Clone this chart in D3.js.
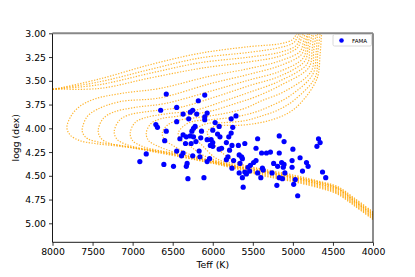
<!DOCTYPE html>
<html>
<head>
<meta charset="utf-8">
<script src="https://cdnjs.cloudflare.com/ajax/libs/d3/7.8.5/d3.min.js"></script>
<style>
body { margin: 0; background: #fff; }
svg text { font-family: "DejaVu Sans", sans-serif; fill: #000; }
</style>
</head>
<body>
<div id="chart"></div>
<script>
var width = 415,
    height = 277,
    margin = {top: 33.3, right: 42, bottom: 34.7, left: 52.5};

// axis ticks
var teffTicks = [8000, 7500, 7000, 6500, 6000, 5500, 5000, 4500, 4000];
var loggTicks = [3.00, 3.25, 3.50, 3.75, 4.00, 4.25, 4.50, 4.75, 5.00];

// FAMA stars
var famaTeff = [6580, 6100, 6180, 6450, 6650, 6250, 6280, 6370, 6200, 6070,
  6100, 6300, 5710, 5770, 6710, 6690, 6450, 6100, 5970, 6220,
  6240, 5920, 5750, 6580, 6260, 6140, 6000, 5940, 5770, 6370,
  6410, 6330, 6280, 6240, 6600, 6150, 6020, 6070, 5910, 5800,
  5440, 5170, 6340, 6270, 6210, 6030, 6000, 5830, 5890, 5760,
  5680, 5600, 5460, 5110, 4680, 4660, 4700, 6830, 6450, 6370,
  6390, 6250, 6160, 6040, 6070, 5810, 5830, 5670, 5640, 5920,
  5790, 6000, 6170, 5390, 5330, 5280, 5170, 5000, 4910, 5010,
  4830, 4810, 5240, 5140, 5110, 5190, 5120, 5010, 5490, 5530,
  5560, 5660, 5630, 5740, 5460, 4880, 4630, 4590, 5370, 5260,
  5100, 5170, 5130, 5440, 5600, 5580, 5670, 5630, 5760, 5400,
  4970, 4990, 5200, 5620, 4940, 6910, 6610, 6490, 6320, 6330,
  6310, 6110, 5540, 5380];
var famaLogg = [3.64, 3.65, 3.71, 3.78, 3.81, 3.81, 3.83, 3.85, 3.85, 3.84,
  3.88, 3.90, 3.87, 3.90, 3.96, 3.99, 3.93, 3.91, 3.94, 3.98,
  4.00, 3.98, 3.99, 4.03, 4.03, 4.03, 4.02, 4.06, 4.05, 4.07,
  4.11, 4.09, 4.08, 4.09, 4.13, 4.10, 4.12, 4.12, 4.09, 4.09,
  4.11, 4.08, 4.16, 4.16, 4.14, 4.18, 4.15, 4.15, 4.21, 4.18,
  4.18, 4.16, 4.21, 4.14, 4.11, 4.15, 4.19, 4.27, 4.24, 4.26,
  4.29, 4.29, 4.30, 4.32, 4.35, 4.30, 4.33, 4.28, 4.30, 4.22,
  4.23, 4.19, 4.24, 4.26, 4.26, 4.25, 4.26, 4.22, 4.31, 4.34,
  4.36, 4.40, 4.37, 4.36, 4.38, 4.40, 4.41, 4.41, 4.36, 4.39,
  4.41, 4.37, 4.32, 4.34, 4.34, 4.45, 4.46, 4.52, 4.44, 4.47,
  4.47, 4.52, 4.53, 4.47, 4.46, 4.48, 4.47, 4.52, 4.42, 4.52,
  4.54, 4.59, 4.60, 4.62, 4.71, 4.35, 4.38, 4.40, 4.37, 4.40,
  4.53, 4.52, 4.45, 4.42];

// isochrones, [Teff, logg], young ones first
var iso_f1 = [[8100, 3.60], [8000, 3.59], [7410, 3.48], [6780, 3.33], [6160, 3.21], [5540, 3.14],
  [5160, 3.11], [5010, 3.07], [4970, 3.03], [4950, 3.00], [4940, 2.91]];
var iso_f2 = [[8100, 3.60], [8000, 3.59], [7410, 3.51], [6780, 3.38], [6160, 3.26], [5540, 3.20],
  [5160, 3.15], [4990, 3.10], [4950, 3.05], [4920, 3.00], [4910, 2.91]];
var iso_f3 = [[8100, 3.60], [8000, 3.59], [7410, 3.54], [6780, 3.42], [6160, 3.31], [5540, 3.25],
  [5160, 3.20], [4960, 3.13], [4920, 3.06], [4900, 3.00], [4890, 2.91]];
var iso_f4 = [[8100, 3.60], [8000, 3.59], [7410, 3.58], [6780, 3.47], [6160, 3.37], [5540, 3.30],
  [5160, 3.24], [4940, 3.15], [4900, 3.07], [4870, 3.00], [4860, 2.91]];
var iso_c1 = [[4000, 4.96], [4225, 4.82], [4450, 4.69], [4660, 4.63], [4950, 4.57], [5370, 4.50],
  [5790, 4.41], [6160, 4.34], [6660, 4.25], [7160, 4.19], [7470, 4.16], [7660, 4.13], [7780, 4.07],
  [7820, 3.99], [7760, 3.86], [7660, 3.77], [7470, 3.69], [7120, 3.63], [6660, 3.58], [6030, 3.45],
  [5540, 3.37], [5160, 3.29], [4910, 3.19], [4870, 3.09], [4850, 3.00], [4840, 2.91]];
var iso_c2 = [[4000, 4.95], [4225, 4.81], [4450, 4.68], [4660, 4.62], [4950, 4.56], [5370, 4.49],
  [5790, 4.40], [6160, 4.34], [6660, 4.26], [7160, 4.18], [7400, 4.15], [7560, 4.11], [7610, 4.07],
  [7630, 4.02], [7570, 3.88], [7440, 3.80], [7160, 3.72], [6660, 3.68], [6030, 3.53], [5540, 3.43],
  [5160, 3.34], [4890, 3.22], [4850, 3.10], [4820, 3.00], [4810, 2.91]];
var iso_c3 = [[4000, 4.94], [4225, 4.80], [4450, 4.67], [4660, 4.61], [4950, 4.55], [5370, 4.48],
  [5790, 4.40], [6160, 4.33], [6660, 4.25], [7000, 4.20], [7280, 4.16], [7390, 4.11], [7430, 4.03],
  [7370, 3.90], [7240, 3.83], [6970, 3.78], [6600, 3.74], [6030, 3.61], [5540, 3.49], [5160, 3.40],
  [4870, 3.26], [4830, 3.11], [4810, 3.00], [4790, 2.91]];
var iso_c4 = [[4000, 4.93], [4225, 4.79], [4450, 4.66], [4660, 4.60], [4950, 4.54], [5370, 4.47],
  [5790, 4.39], [6160, 4.32], [6660, 4.24], [6900, 4.21], [7080, 4.17], [7190, 4.12], [7230, 4.04],
  [7170, 3.92], [7050, 3.86], [6780, 3.82], [6410, 3.78], [5970, 3.67], [5540, 3.55], [5160, 3.45],
  [4850, 3.29], [4810, 3.13], [4790, 3.00], [4770, 2.91]];
var iso_c5 = [[4000, 4.92], [4225, 4.78], [4450, 4.65], [4660, 4.59], [4950, 4.53], [5370, 4.46],
  [5790, 4.39], [6160, 4.32], [6500, 4.26], [6700, 4.23], [6880, 4.19], [7000, 4.13], [7030, 4.05],
  [6970, 3.94], [6850, 3.89], [6600, 3.85], [6220, 3.81], [5850, 3.71], [5540, 3.62], [5160, 3.50],
  [4820, 3.32], [4790, 3.14], [4760, 3.00], [4750, 2.91]];
var iso_c6 = [[4000, 4.91], [4225, 4.77], [4450, 4.64], [4660, 4.59], [4950, 4.53], [5370, 4.46],
  [5790, 4.39], [6160, 4.32], [6450, 4.26], [6680, 4.19], [6800, 4.13], [6830, 4.05],
  [6770, 3.95], [6650, 3.90], [6410, 3.87], [6030, 3.82], [5720, 3.74], [5470, 3.67], [5160, 3.55],
  [4800, 3.36], [4760, 3.17], [4740, 3.00], [4720, 2.91]];
var iso_c7 = [[4000, 4.91], [4225, 4.77], [4450, 4.63], [4660, 4.58], [4950, 4.52], [5370, 4.45],
  [5790, 4.38], [6100, 4.32], [6300, 4.27], [6480, 4.19], [6600, 4.12], [6630, 4.05],
  [6570, 3.97], [6450, 3.92], [6220, 3.89], [5890, 3.85], [5600, 3.79], [5390, 3.71], [5100, 3.61],
  [4770, 3.40], [4740, 3.18], [4710, 3.00], [4700, 2.91]];
var iso_c8 = [[4000, 4.90], [4225, 4.76], [4450, 4.63], [4660, 4.57], [4950, 4.52], [5370, 4.45],
  [5790, 4.38], [5950, 4.34], [6130, 4.28], [6280, 4.19], [6400, 4.12], [6430, 4.05],
  [6370, 3.98], [6260, 3.93], [6030, 3.91], [5720, 3.88], [5470, 3.83], [5290, 3.77], [5040, 3.66],
  [4750, 3.43], [4710, 3.20], [4690, 3.00], [4670, 2.91]];
var iso_c9 = [[4000, 4.89], [4225, 4.75], [4450, 4.62], [4660, 4.57], [4950, 4.51], [5370, 4.44],
  [5700, 4.38], [5950, 4.32], [6120, 4.19], [6210, 4.11], [6250, 4.05],
  [6180, 3.99], [6070, 3.95], [5850, 3.94], [5600, 3.92], [5390, 3.87], [5190, 3.81], [4980, 3.70],
  [4720, 3.46], [4690, 3.21], [4660, 3.00], [4650, 2.91]];
var iso_c10 = [[4000, 4.88], [4225, 4.74], [4450, 4.61], [4660, 4.56], [4950, 4.50], [5370, 4.43],
  [5600, 4.39], [5800, 4.31], [5950, 4.20], [6030, 4.11], [6070, 4.04],
  [6010, 3.99], [5910, 3.97], [5700, 3.97], [5470, 3.95], [5260, 3.91], [5060, 3.84], [4910, 3.74],
  [4700, 3.48], [4660, 3.22], [4640, 3.00], [4620, 2.91]];

var isochrones = [iso_f1, iso_f2, iso_f3, iso_f4, iso_c1, iso_c2, iso_c3, iso_c4,
  iso_c5, iso_c6, iso_c7, iso_c8, iso_c9, iso_c10];

var x = d3.scaleLinear()
    .domain([8000, 4000])
    .range([margin.left, width - margin.right]);

var y = d3.scaleLinear()
    .domain([3.0, 5.2])
    .range([margin.top, height - margin.bottom]);

var svg = d3.select("#chart").append("svg")
    .attr("width", width)
    .attr("height", height);

svg.append("clipPath")
    .attr("id", "plotclip")
  .append("rect")
    .attr("x", x(8000))
    .attr("y", y(3.0))
    .attr("width", x(4000) - x(8000))
    .attr("height", y(5.2) - y(3.0));

var line = d3.line()
    .x(function(d) { return x(d[0]); })
    .y(function(d) { return y(d[1]); })
    .curve(d3.curveCatmullRom.alpha(0.5));

svg.append("g")
    .attr("clip-path", "url(#plotclip)")
    .selectAll("path")
    .data(isochrones)
    .enter()
    .append("path")
    .attr("d", line)
    .style("fill", "none")
    .style("stroke", "orange")
    .style("stroke-opacity", 0.8)
    .style("stroke-width", 1.2)
    .style("stroke-dasharray", "1.3,1.5");

svg.append("g")
    .selectAll("circle")
    .data(famaTeff)
    .enter()
    .append("circle")
    .attr("cx", function(d) { return x(d); })
    .attr("cy", function(d, i) { return y(famaLogg[i]); })
    .attr("r", 2.6)
    .style("fill", "blue");

// axes
var xMinor = d3.range(4000, 8001, 100);
var yMinor = d3.range(0, 45).map(function(i) { return 3 + i * 0.05; });

var gx = svg.append("g")
    .attr("transform", "translate(0," + y(5.2) + ")");
gx.call(d3.axisBottom(x).tickValues(xMinor).tickSize(2).tickFormat(""));
gx.call(d3.axisBottom(x).tickValues(teffTicks).tickSize(3.5).tickPadding(3)
    .tickFormat(d3.format("d")));

var gy = svg.append("g")
    .attr("transform", "translate(" + x(8000) + ",0)");
gy.call(d3.axisLeft(y).tickValues(yMinor).tickSize(2).tickFormat(""));
gy.call(d3.axisLeft(y).tickValues(loggTicks).tickSize(3.5).tickPadding(3)
    .tickFormat(d3.format(".2f")));

svg.selectAll(".domain").remove();
svg.selectAll(".tick line").style("stroke", "#000").style("stroke-width", 0.8);
svg.selectAll(".tick text").style("font-size", "9.3px");

// spines
svg.append("line")
    .attr("x1", x(8000)).attr("x2", x(8000)).attr("y1", y(3.0)).attr("y2", y(5.2))
    .style("stroke", "#000").style("stroke-width", 0.9);
svg.append("line")
    .attr("x1", x(4000)).attr("x2", x(4000)).attr("y1", y(3.0)).attr("y2", y(5.2))
    .style("stroke", "#000").style("stroke-width", 0.9);
svg.append("line")
    .attr("x1", x(8000)).attr("x2", x(4000)).attr("y1", y(5.2)).attr("y2", y(5.2))
    .style("stroke", "#000").style("stroke-width", 0.9);
svg.append("line")
    .attr("x1", x(8000)).attr("x2", x(4000)).attr("y1", y(3.0)).attr("y2", y(3.0))
    .style("stroke", "#888").style("stroke-width", 2);

// labels
svg.append("text")
    .attr("x", (x(8000) + x(4000)) / 2)
    .attr("y", 268)
    .attr("text-anchor", "middle")
    .style("font-size", "9.3px")
    .text("Teff (K)");

svg.append("text")
    .attr("transform", "translate(19," + ((y(3.0) + y(5.2)) / 2) + ") rotate(-90)")
    .attr("text-anchor", "middle")
    .style("font-size", "9.3px")
    .text("logg (dex)");

// legend
var legend = svg.append("g");
legend.append("rect")
    .attr("x", 333).attr("y", 34.5)
    .attr("width", 38.5).attr("height", 11.5)
    .attr("rx", 1.5)
    .style("fill", "#fff")
    .style("stroke", "#d0d0d0")
    .style("stroke-width", 0.8);
legend.append("circle")
    .attr("cx", 341.5).attr("cy", 40.5)
    .attr("r", 2.3)
    .style("fill", "blue");
legend.append("text")
    .attr("x", 352).attr("y", 42.5)
    .style("font-size", "5.6px")
    .text("FAMA");
</script>
</body>
</html>
